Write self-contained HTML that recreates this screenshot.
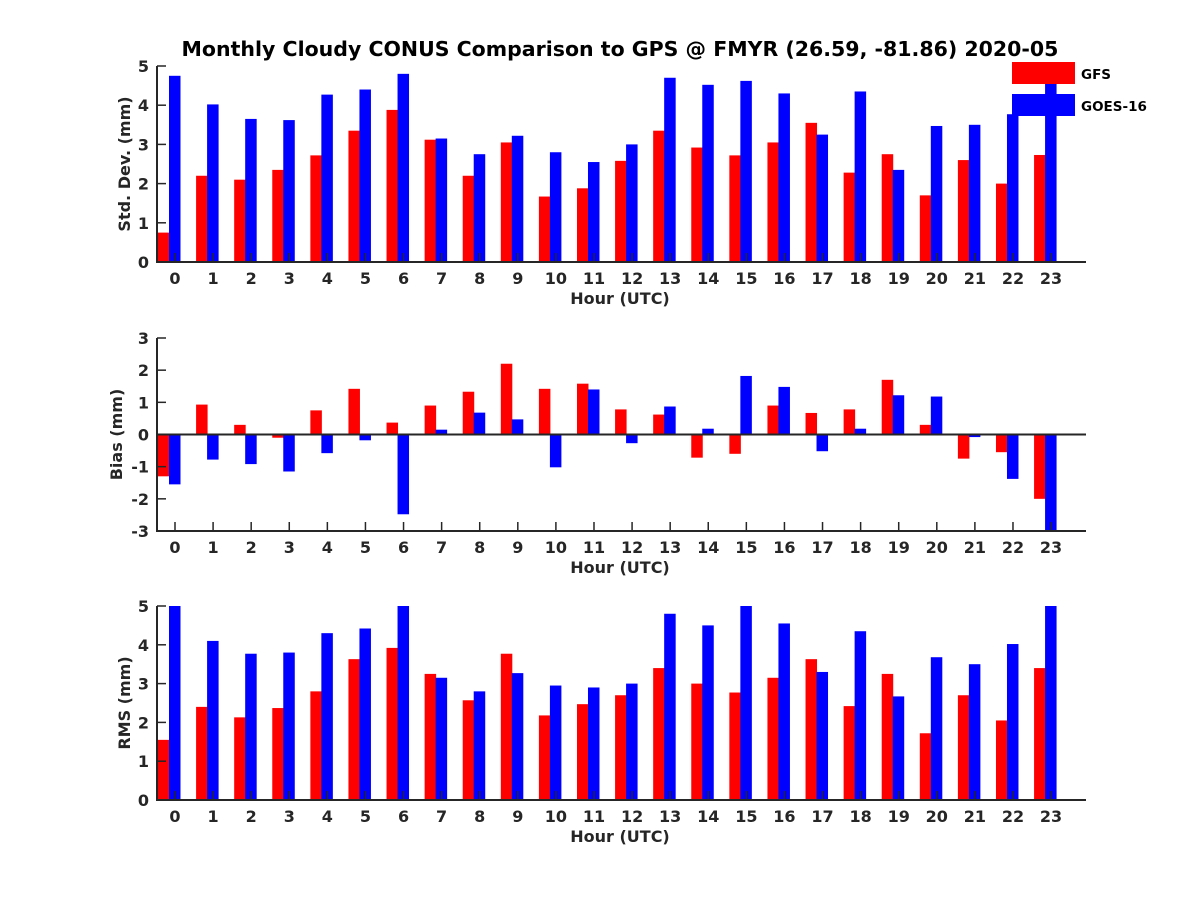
<!DOCTYPE html>
<html><head><meta charset="utf-8"><style>
html,body{margin:0;padding:0;background:#fff;}
svg{display:block;font-family:"DejaVu Sans","Liberation Sans",sans-serif;font-weight:bold;}
</style></head><body>
<svg id="chart" width="1200" height="900" viewBox="0 0 1200 900" xmlns="http://www.w3.org/2000/svg">
<rect width="1200" height="900" fill="#fff"/>
<text x="620" y="56" text-anchor="middle" font-size="20.5" fill="#000">Monthly Cloudy CONUS Comparison to GPS @ FMYR (26.59, -81.86) 2020-05</text>
<g id="plots"></g>
<g>
<rect x="1012" y="62" width="63" height="22" fill="#ff0000"/>
<text x="1081" y="79" font-size="13.5" fill="#000">GFS</text>
<rect x="1012" y="94" width="63" height="22" fill="#0000ff"/>
<text x="1081" y="111" font-size="13.5" fill="#000">GOES-16</text>
</g>
</svg>
<script>
const hours = [0,1,2,3,4,5,6,7,8,9,10,11,12,13,14,15,16,17,18,19,20,21,22,23];
const stdGFS = [0.75,2.2,2.1,2.35,2.72,3.35,3.88,3.12,2.2,3.05,1.67,1.88,2.58,3.35,2.92,2.72,3.05,3.55,2.28,2.75,1.7,2.6,2.0,2.73];
const stdGOES = [4.75,4.02,3.65,3.62,4.27,4.4,4.8,3.15,2.75,3.22,2.8,2.55,3.0,4.7,4.52,4.62,4.3,3.25,4.35,2.35,3.47,3.5,3.77,4.75];
const biasGFS = [-1.3,0.93,0.3,-0.1,0.75,1.42,0.37,0.9,1.33,2.2,1.42,1.58,0.78,0.62,-0.72,-0.6,0.9,0.67,0.78,1.7,0.3,-0.75,-0.55,-2.0];
const biasGOES = [-1.55,-0.78,-0.92,-1.15,-0.58,-0.18,-2.48,0.15,0.68,0.47,-1.02,1.4,-0.27,0.87,0.18,1.82,1.48,-0.52,0.18,1.22,1.18,-0.08,-1.38,-3.1];
const rmsGFS = [1.55,2.4,2.13,2.37,2.8,3.63,3.92,3.25,2.57,3.77,2.18,2.47,2.7,3.4,3.0,2.77,3.15,3.63,2.42,3.25,1.72,2.7,2.05,3.4];
const rmsGOES = [5.05,4.1,3.77,3.8,4.3,4.42,5.05,3.15,2.8,3.27,2.95,2.9,3.0,4.8,4.5,5.1,4.55,3.3,4.35,2.67,3.68,3.5,4.02,5.1];
const stdTicks = [0,1,2,3,4,5];
const biasTicks = [-3,-2,-1,0,1,2,3];
const rmsTicks = [0,1,2,3,4,5];

const NS = "http://www.w3.org/2000/svg";
const root = document.getElementById('plots');
function el(tag, attrs, parent){const e=document.createElementNS(NS,tag);for(const k in attrs)e.setAttribute(k,attrs[k]);(parent||root).appendChild(e);return e;}
const X0=157, X1=1086;
function xs(h){return 175 + h*38.09;}

function panel(key, top, bottom, ymin, ymax, ticks, red, blue, ylabel, ylx){
  const g=el('g',{});
  
  
  const ys=v=>bottom-(v-ymin)/(ymax-ymin)*(bottom-top);
  const clip=v=>Math.max(ymin,Math.min(ymax,v));
  const base=ys(Math.max(ymin,0));
  hours.forEach((h,i)=>{
    const cx=xs(h);
    [[red[i],'#ff0000',cx-17,'gfs'],[blue[i],'#0000ff',cx-6,'goes']].forEach(([v,c,x,s])=>{
      const y=ys(clip(v));
      const r=el('rect',{x:x,y:Math.min(y,base),width:11.5,height:Math.abs(base-y),fill:c},g);
      
      
    });
  });
  const ax=el('path',{d:`M${X0},${top}V${bottom}H${X1}`,stroke:'#262626','stroke-width':2,fill:'none'},g);
  
  
  if(ymin<0){
    const z=el('line',{x1:X0,x2:X1,y1:ys(0),y2:ys(0),stroke:'#262626','stroke-width':2},g);
    
    
  }
  ticks.forEach(t=>{
    const y=ys(t);
    el('line',{x1:X0,x2:X0+9,y1:y,y2:y,stroke:'#262626','stroke-width':1.5},g);
    const tx=el('text',{x:X0-8,y:y+6,'text-anchor':'end','font-size':16,fill:'#262626'},g);
    tx.textContent=t;
    
    
  });
  hours.forEach(h=>{
    const x=xs(h);
    el('line',{x1:x,x2:x,y1:bottom,y2:bottom-9,stroke:'#262626','stroke-width':1.5},g);
    const tx=el('text',{x:x,y:bottom+22,'text-anchor':'middle','font-size':16,fill:'#262626'},g);
    tx.textContent=h;
    
    
  });
  const xl=el('text',{x:620,y:bottom+42,'text-anchor':'middle','font-size':16,fill:'#262626'},g);
  xl.textContent='Hour (UTC)';
  
  
  const cy=(top+bottom)/2;
  const yl=el('text',{x:ylx,y:cy,'text-anchor':'middle','font-size':16,fill:'#262626',transform:`rotate(-90 ${ylx} ${cy})`},g);
  yl.textContent=ylabel;
  
  
}
panel('std',66,262,0,5,stdTicks,stdGFS,stdGOES,'Std. Dev. (mm)',130);
panel('bias',338,531,-3,3,biasTicks,biasGFS,biasGOES,'Bias (mm)',122);
panel('rms',606,800,0,5,rmsTicks,rmsGFS,rmsGOES,'RMS (mm)',130);
</script>
</body></html>
